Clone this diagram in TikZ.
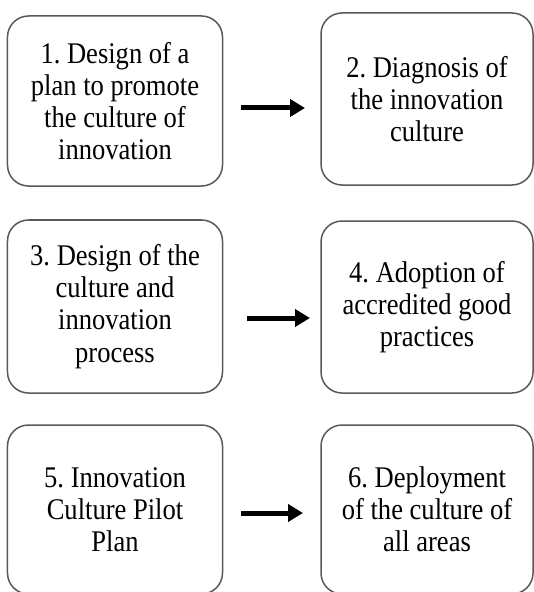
\documentclass[tikz,border=0pt]{standalone}
\usepackage{fontspec}
\setmainfont{Liberation Serif}[FakeStretch=0.885]
\usetikzlibrary{arrows.meta}
\frenchspacing
\begin{document}
\begin{tikzpicture}[x=1bp,y=-1bp,
  stagebox/.style={draw=black!65, line width=1.5bp, rounded corners=21bp,
    align=center, inner sep=0pt,
    font=\fontsize{30bp}{32.2bp}\selectfont},
  flowarrow/.style={line width=5bp, -{Triangle[length=15bp,width=17bp]}}]
\useasboundingbox (0,0) rectangle (534,592);
\node[stagebox, minimum width=215bp, minimum height=170bp] (s1) at (115,101)
  {1. Design of a\\plan to promote\\the culture of\\innovation};
\node[stagebox, minimum width=212bp, minimum height=172bp] (s2) at (427,99)
  {2. Diagnosis of\\the innovation\\culture};
\node[stagebox, minimum width=215bp, minimum height=173bp] (s3) at (115,306.5)
  {3. Design of the\\culture and\\innovation\\process};
\node[stagebox, minimum width=212bp, minimum height=172bp] (s4) at (427,307)
  {4. Adoption of\\accredited good\\practices};
\node[stagebox, minimum width=215bp, minimum height=169bp] (s5) at (115,509.5)
  {5. Innovation\\Culture Pilot\\Plan};
\node[stagebox, minimum width=212bp, minimum height=169bp] (s6) at (427,509.5)
  {6. Deployment\\of the culture of\\all areas};
\coordinate (a1s) at (241,108);
\coordinate (a1e) at (305,108);
\coordinate (a2s) at (247,318);
\coordinate (a2e) at (310,318);
\coordinate (a3s) at (241,513);
\coordinate (a3e) at (303,513);
\draw[flowarrow] (a1s) -- (a1e);
\draw[flowarrow] (a2s) -- (a2e);
\draw[flowarrow] (a3s) -- (a3e);
\end{tikzpicture}
\end{document}
